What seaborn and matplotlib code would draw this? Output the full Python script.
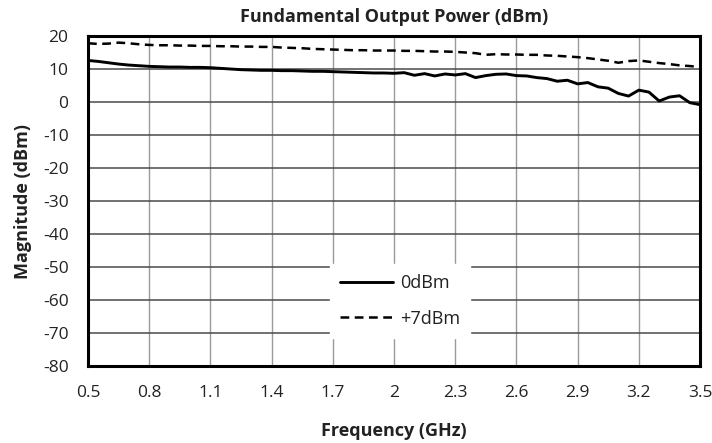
import pandas as pd
import matplotlib.pyplot as plt
import seaborn as sns

# ---------------- data ----------------
FREQ_GHZ = [0.50, 0.55, 0.60, 0.65, 0.70, 0.75, 0.80, 0.85, 0.90, 0.95,
            1.00, 1.05, 1.10, 1.15, 1.20, 1.25, 1.30, 1.35, 1.40, 1.45,
            1.50, 1.55, 1.60, 1.65, 1.70, 1.75, 1.80, 1.85, 1.90, 1.95,
            2.00, 2.05, 2.10, 2.15, 2.20, 2.25, 2.30, 2.35, 2.40, 2.45,
            2.50, 2.55, 2.60, 2.65, 2.70, 2.75, 2.80, 2.85, 2.90, 2.95,
            3.00, 3.05, 3.10, 3.15, 3.20, 3.25, 3.30, 3.35, 3.40, 3.45,
            3.50]

P_0DBM = [12.6, 12.3, 11.9, 11.5, 11.2, 11.0, 10.8, 10.7, 10.6, 10.6,
          10.5, 10.5, 10.4, 10.2, 10.0, 9.8, 9.7, 9.6, 9.6, 9.5,
          9.5, 9.4, 9.3, 9.3, 9.2, 9.1, 9.0, 8.9, 8.8, 8.8,
          8.7, 8.9, 8.1, 8.6, 7.9, 8.5, 8.2, 8.6, 7.4, 8.0,
          8.4, 8.5, 8.0, 7.9, 7.4, 7.1, 6.3, 6.6, 5.5, 5.9,
          4.6, 4.2, 2.6, 1.8, 3.6, 3.0, 0.3, 1.5, 1.9, -0.2,
          -0.8]

P_7DBM = [17.8, 17.6, 17.7, 18.0, 17.8, 17.5, 17.3, 17.2, 17.2, 17.1,
          17.1, 17.0, 17.0, 16.9, 16.9, 16.8, 16.8, 16.7, 16.7, 16.5,
          16.4, 16.3, 16.1, 16.0, 15.9, 15.8, 15.7, 15.7, 15.6, 15.6,
          15.6, 15.5, 15.5, 15.4, 15.3, 15.3, 15.2, 15.0, 14.8, 14.3,
          14.5, 14.4, 14.4, 14.3, 14.3, 14.1, 14.0, 13.8, 13.6, 13.3,
          12.9, 12.5, 11.9, 12.4, 12.6, 12.2, 11.8, 11.5, 11.1, 10.9,
          10.6]

X_TICKS = [0.5, 0.8, 1.1, 1.4, 1.7, 2.0, 2.3, 2.6, 2.9, 3.2, 3.5]
X_TICK_LABELS = ["0.5", "0.8", "1.1", "1.4", "1.7", "2", "2.3", "2.6", "2.9", "3.2", "3.5"]
Y_TICKS = [20, 10, 0, -10, -20, -30, -40, -50, -60, -70, -80]

df = pd.DataFrame({"Frequency": FREQ_GHZ, "0dBm": P_0DBM, "+7dBm": P_7DBM})

# ---------------- style ----------------
sns.set_theme(style="white")
plt.rcParams["font.family"] = ["Open Sans", "DejaVu Sans"]
plt.rcParams["axes.unicode_minus"] = False

fig = plt.figure(figsize=(7.12, 4.43), dpi=100)
ax = fig.add_axes([0.1236, 0.1738, 0.8595, 0.7449])

sns.lineplot(data=df, x="Frequency", y="0dBm", ax=ax, color="black",
             linewidth=2.1, label="0dBm")
sns.lineplot(data=df, x="Frequency", y="+7dBm", ax=ax, color="black",
             linewidth=1.8, linestyle=(0, (3.5, 2.2)), label="+7dBm")

ax.set_xlim(0.5, 3.5)
ax.set_ylim(-80, 20)
ax.set_xticks(X_TICKS)
ax.set_xticklabels(X_TICK_LABELS)
ax.set_yticks(Y_TICKS)
ax.tick_params(axis="both", labelsize=12.5, length=0, colors="#222222")
ax.tick_params(axis="x", pad=14)
ax.tick_params(axis="y", pad=14)

# grid: horizontal darker, vertical lighter
ax.yaxis.grid(True, color="#4a4a4a", linewidth=1.1)
ax.xaxis.grid(True, color="#9a9a9a", linewidth=1.0)
ax.set_axisbelow(True)

for s in ax.spines.values():
    s.set_visible(True)
    s.set_color("black")
    s.set_linewidth(2.2)

ax.set_title("Fundamental Output Power (dBm)", fontsize=13, fontweight="bold",
             pad=10, color="#222222")
ax.set_xlabel("Frequency (GHz)", fontsize=13, fontweight="bold", labelpad=15,
              color="#222222")
ax.set_ylabel("Magnitude (dBm)", fontsize=13, fontweight="bold", labelpad=8,
              color="#222222")

leg = ax.legend(loc="center", bbox_to_anchor=(0.51, 0.197), frameon=True,
                fontsize=13, handlelength=2.9, labelspacing=0.95,
                borderpad=0.55, handletextpad=0.4, fancybox=False)
leg.get_frame().set_facecolor("white")
leg.get_frame().set_edgecolor("white")
leg.get_frame().set_alpha(1)
for t in leg.get_texts():
    t.set_color("#222222")

fig.savefig("out.png", dpi=100)
